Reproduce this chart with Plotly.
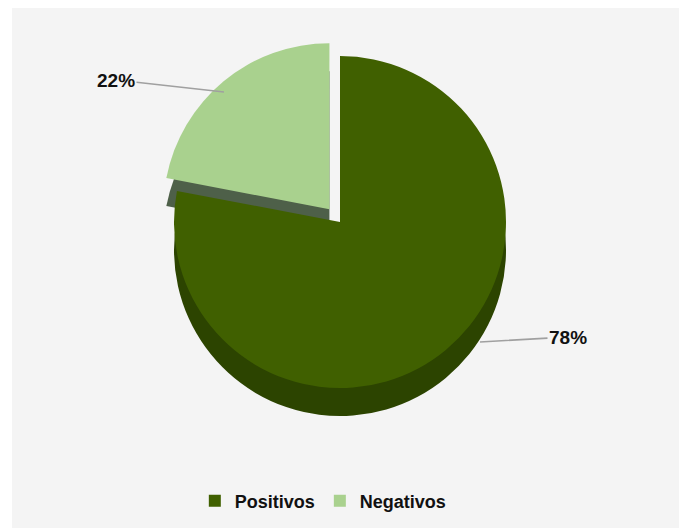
import plotly.graph_objects as go

# ---- data ----
labels = ["Positivos", "Negativos"]
values = [78, 22]
face_colors = ["#406000", "#A9D18E"]
side_colors = ["#2C4400", "#4E6049"]
pulls = [0, 0.1]

W, H = 685, 528
def px(x):
    return x / W
def py(y):
    return 1 - y / H

R = 166          # visible radius in px
CX, CY = 340, 222
DEPTH = 28
half = R * (1 + max(pulls))
dom_x = [px(CX - half), px(CX + half)]
dom_y = [py(CY + half), py(CY - half)]
dom_y_side = [py(CY + half + DEPTH), py(CY - half + DEPTH)]

total = sum(values)
pct = [f"{round(v / total * 100)}%" for v in values]

fig = go.Figure()
# depth (side) layer
fig.add_trace(go.Pie(
    labels=labels, values=values, sort=False, direction="clockwise", rotation=0,
    pull=pulls, marker=dict(colors=side_colors), textinfo="none",
    domain=dict(x=dom_x, y=dom_y_side), showlegend=False, hoverinfo="skip",
))
# top face
fig.add_trace(go.Pie(
    labels=labels, values=values, sort=False, direction="clockwise", rotation=0,
    pull=pulls, marker=dict(colors=face_colors), textinfo="none",
    domain=dict(x=dom_x, y=dom_y), showlegend=True,
))

fig.add_shape(type="rect", xref="paper", yref="paper",
              x0=px(12), x1=px(679), y0=0, y1=py(8),
              fillcolor="#F4F4F4", line=dict(width=0), layer="below")

lab_font = dict(family="Liberation Sans, Arial", size=19, color="#111111", weight="bold")
fig.add_annotation(x=px(224), y=py(92), xref="paper", yref="paper",
                   text=pct[1], font=lab_font, showarrow=True, arrowhead=0,
                   arrowwidth=1.6, arrowcolor="#A0A0A0", ax=-108, ay=-12, standoff=0)
fig.add_annotation(x=px(480), y=py(342), xref="paper", yref="paper",
                   text=pct[0], font=lab_font, showarrow=True, arrowhead=0,
                   arrowwidth=1.6, arrowcolor="#A0A0A0", ax=88, ay=-5, standoff=0)

fig.update_layout(
    width=W, height=H, margin=dict(l=0, r=0, t=0, b=0),
    paper_bgcolor="white", plot_bgcolor="white",
    legend=dict(orientation="h", x=0.472, xanchor="center", y=py(501), yanchor="middle",
                font=dict(family="Liberation Sans, Arial", size=18, color="#111111", weight="bold"),
                bgcolor="rgba(0,0,0,0)", itemwidth=30),
)
fig.write_html("out.html")
